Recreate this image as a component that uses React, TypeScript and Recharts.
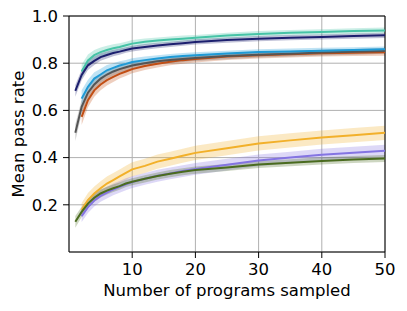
import React from 'react';
import {
    ComposedChart,
    Line,
    Area,
    XAxis,
    YAxis,
    CartesianGrid,
    ReferenceArea,
} from 'recharts';

// number of programs sampled
const samples = [1, 2, 3, 4, 5, 6, 7, 8, 9, 10, 12, 14, 16, 18, 20, 25, 30, 35, 40, 45, 50];

const tealMean = [null, 0.765, 0.812, 0.834, 0.847, 0.856, 0.863, 0.869, 0.876, 0.883, 0.891, 0.896, 0.9, 0.904, 0.908, 0.917, 0.924, 0.929, 0.932, 0.936, 0.939];
const tealSpread = [0, 0.03, 0.025, 0.022, 0.02, 0.018, 0.017, 0.016, 0.015, 0.015, 0.014, 0.013, 0.013, 0.013, 0.012, 0.012, 0.012, 0.012, 0.012, 0.012, 0.012];

const navyMean = [0.683, 0.75, 0.791, 0.81, 0.826, 0.835, 0.843, 0.849, 0.856, 0.862, 0.869, 0.875, 0.88, 0.885, 0.89, 0.898, 0.904, 0.908, 0.911, 0.915, 0.918];
const navySpread = [0.025, 0.022, 0.02, 0.018, 0.016, 0.015, 0.014, 0.013, 0.012, 0.012, 0.012, 0.012, 0.011, 0.011, 0.011, 0.011, 0.011, 0.011, 0.011, 0.011, 0.011];

const blueMean = [null, 0.65, 0.7, 0.735, 0.752, 0.77, 0.78, 0.79, 0.797, 0.805, 0.813, 0.82, 0.826, 0.83, 0.834, 0.841, 0.847, 0.85, 0.853, 0.856, 0.859];
const blueSpread = [0, 0.035, 0.03, 0.027, 0.025, 0.022, 0.02, 0.018, 0.017, 0.016, 0.015, 0.014, 0.013, 0.013, 0.012, 0.012, 0.012, 0.012, 0.012, 0.012, 0.012];

const grayMean = [0.505, 0.615, 0.675, 0.71, 0.735, 0.752, 0.765, 0.775, 0.783, 0.79, 0.8, 0.808, 0.814, 0.818, 0.822, 0.83, 0.836, 0.84, 0.845, 0.848, 0.852];
const graySpread = [0.035, 0.03, 0.025, 0.022, 0.02, 0.018, 0.017, 0.016, 0.015, 0.015, 0.014, 0.014, 0.013, 0.013, 0.013, 0.013, 0.012, 0.012, 0.012, 0.012, 0.012];

const orangeMean = [null, 0.573, 0.643, 0.685, 0.71, 0.728, 0.742, 0.755, 0.765, 0.775, 0.788, 0.798, 0.806, 0.813, 0.818, 0.828, 0.834, 0.838, 0.842, 0.844, 0.846];
const orangeSpread = [0, 0.035, 0.03, 0.027, 0.025, 0.023, 0.022, 0.02, 0.019, 0.018, 0.017, 0.016, 0.015, 0.015, 0.015, 0.014, 0.014, 0.014, 0.014, 0.014, 0.014];

const yellowMean = [null, 0.178, 0.22, 0.248, 0.27, 0.29, 0.305, 0.32, 0.335, 0.35, 0.365, 0.383, 0.395, 0.408, 0.42, 0.44, 0.46, 0.473, 0.485, 0.495, 0.505];
const yellowSpread = [0, 0.03, 0.03, 0.03, 0.03, 0.03, 0.03, 0.03, 0.03, 0.03, 0.03, 0.03, 0.03, 0.03, 0.03, 0.03, 0.03, 0.03, 0.03, 0.03, 0.03];

const purpleMean = [null, 0.152, 0.19, 0.218, 0.238, 0.252, 0.265, 0.276, 0.287, 0.296, 0.31, 0.323, 0.333, 0.343, 0.352, 0.37, 0.388, 0.4, 0.412, 0.421, 0.429];
const purpleSpread = [0, 0.025, 0.025, 0.025, 0.025, 0.025, 0.025, 0.025, 0.025, 0.025, 0.025, 0.025, 0.025, 0.025, 0.025, 0.025, 0.025, 0.025, 0.025, 0.025, 0.025];

const greenMean = [0.128, 0.17, 0.205, 0.23, 0.248, 0.26, 0.27, 0.279, 0.29, 0.298, 0.31, 0.322, 0.332, 0.34, 0.347, 0.358, 0.371, 0.378, 0.386, 0.392, 0.396];
const greenSpread = [0.025, 0.022, 0.02, 0.018, 0.017, 0.016, 0.016, 0.015, 0.015, 0.015, 0.015, 0.015, 0.015, 0.015, 0.015, 0.015, 0.015, 0.015, 0.015, 0.015, 0.015];

const xTicks = [10, 20, 30, 40, 50];
const yTicks = [0.2, 0.4, 0.6, 0.8, 1.0];

const SERIES = [
    { key: 'yellow', color: '#f2b02a', mean: yellowMean, spread: yellowSpread },
    { key: 'purple', color: '#8474e2', mean: purpleMean, spread: purpleSpread },
    { key: 'green', color: '#4a6b1f', mean: greenMean, spread: greenSpread },
    { key: 'orange', color: '#c24e14', mean: orangeMean, spread: orangeSpread },
    { key: 'gray', color: '#555555', mean: grayMean, spread: graySpread },
    { key: 'blue', color: '#1e9ad6', mean: blueMean, spread: blueSpread },
    { key: 'teal', color: '#46c3a6', mean: tealMean, spread: tealSpread },
    { key: 'navy', color: '#1c1f6e', mean: navyMean, spread: navySpread },
];

const data = samples.map((x, i) => {
    const row: any = { x };
    SERIES.forEach((s) => {
        const m = s.mean[i];
        row[s.key] = m;
        row[s.key + 'Band'] = m == null ? null : [m - s.spread[i], m + s.spread[i]];
    });
    return row;
});

const FONT = '"DejaVu Sans", sans-serif';
const FS = 16.5;

export default function App() {
    return (
        <div style={{ position: 'absolute', left: 0, top: 0, background: '#fff' }}>
            <ComposedChart
                width={407}
                height={311}
                data={data}
                margin={{ top: 16, right: 22, bottom: 29, left: 29 }}
                style={{ fontFamily: FONT }}
            >
                <CartesianGrid stroke="#b0b0b0" strokeWidth={1} />
                <XAxis
                    dataKey="x"
                    type="number"
                    domain={[0, 50]}
                    ticks={xTicks}
                    height={30}
                    tickSize={6}
                    axisLine={false}
                    tickLine={{ stroke: '#000' }}
                    tick={{ fill: '#000', fontSize: FS, dy: 3 }}
                    label={{ value: 'Number of programs sampled', position: 'insideBottom', offset: -14, fill: '#000', fontSize: FS }}
                />
                <YAxis
                    type="number"
                    domain={[0, 1]}
                    ticks={yTicks}
                    width={40}
                    tickSize={6}
                    axisLine={false}
                    tickLine={{ stroke: '#000' }}
                    tick={{ fill: '#000', fontSize: FS, dx: -3 }}
                    tickFormatter={(v) => v.toFixed(1)}
                    label={{ value: 'Mean pass rate', angle: -90, position: 'insideLeft', offset: -11, fill: '#000', fontSize: FS, style: { textAnchor: 'middle' } }}
                />
                {SERIES.map((s) => (
                    <Area
                        key={s.key + 'Band'}
                        dataKey={s.key + 'Band'}
                        type="linear"
                        stroke="none"
                        fill={s.color}
                        fillOpacity={0.28}
                        isAnimationActive={false}
                        activeDot={false}
                    />
                ))}
                {SERIES.map((s) => (
                    <Line
                        key={s.key}
                        dataKey={s.key}
                        type="linear"
                        stroke={s.color}
                        strokeWidth={2}
                        dot={false}
                        activeDot={false}
                        isAnimationActive={false}
                    />
                ))}
                <ReferenceArea x1={0} x2={50} y1={0} y2={1} fill="none" stroke="#000" strokeWidth={1} ifOverflow="visible" />
            </ComposedChart>
        </div>
    );
}
